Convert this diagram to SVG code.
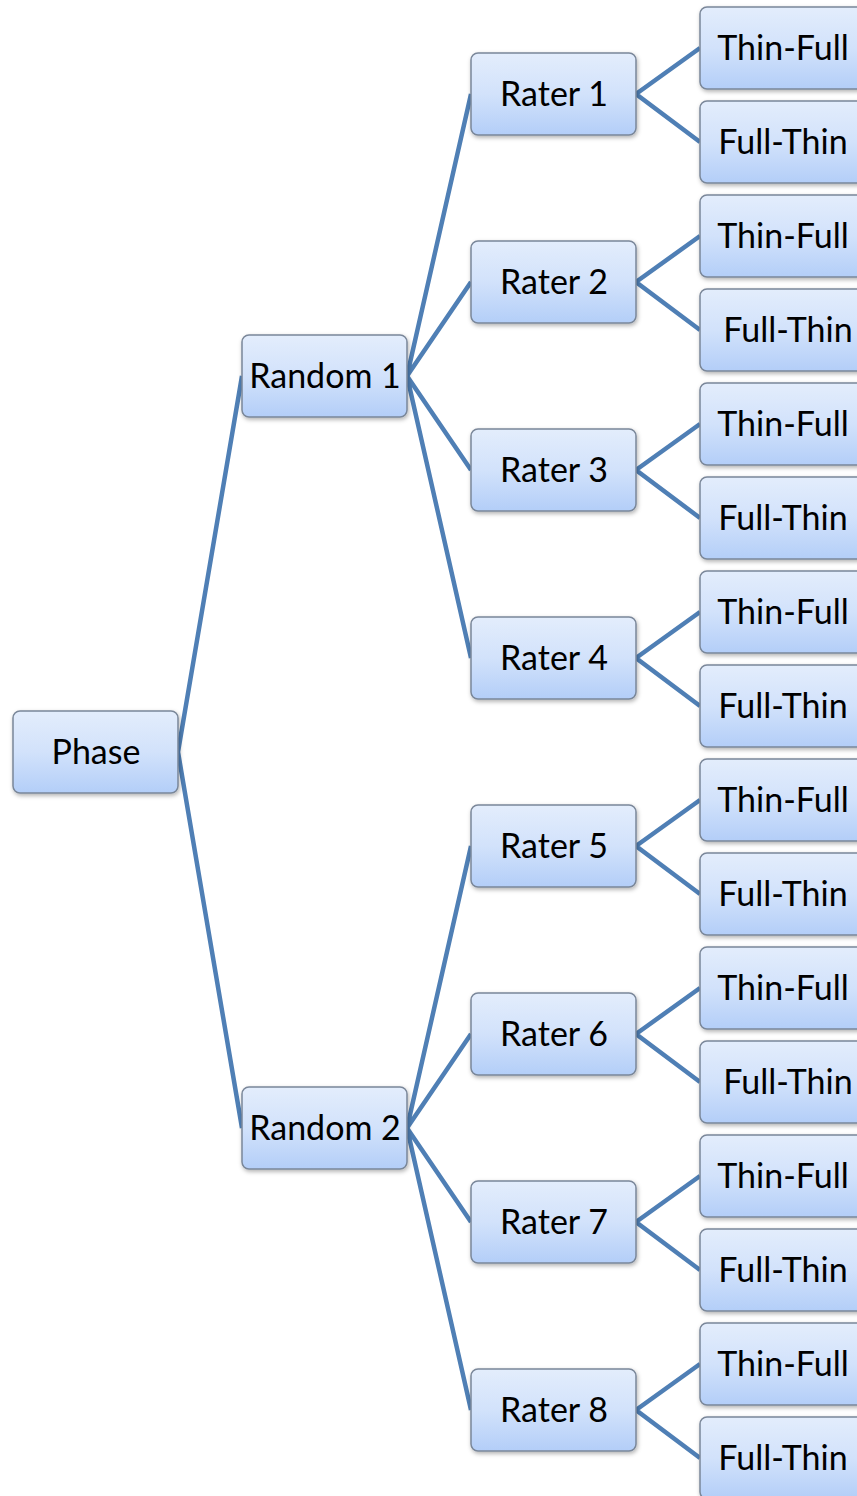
<svg xmlns="http://www.w3.org/2000/svg" width="857" height="1496" viewBox="0 0 857 1496">
<style>
.box{fill:url(#g);stroke:#7a8799;stroke-width:1.5;filter:url(#sh)}
.t{font-family:Lato,"Open Sans",sans-serif;font-size:34px;fill:#000;text-anchor:middle}
.c{stroke:#4f7fb5;stroke-width:4.5;fill:none;stroke-linejoin:miter}
</style>
<defs>
<linearGradient id="g" x1="0" y1="0" x2="0" y2="1">
<stop offset="0" stop-color="#e3edfc"/>
<stop offset="0.5" stop-color="#d2e2fb"/>
<stop offset="1" stop-color="#b3cef8"/>
</linearGradient>
<filter id="sh" x="-10%" y="-10%" width="130%" height="140%">
<feDropShadow dx="1" dy="2" stdDeviation="2" flood-color="#000" flood-opacity="0.3"/>
</filter>
</defs>
<rect width="857" height="1496" fill="#fff"/>
<g id="connectors">
<polyline class="c" points="242,376 178,752 242,1128"/>
<polyline class="c" points="471,94 407,376 471,282"/>
<polyline class="c" points="471,470 407,376 471,658"/>
<polyline class="c" points="471,846 407,1128 471,1034"/>
<polyline class="c" points="471,1222 407,1128 471,1410"/>
<polyline class="c" points="700,48 636,94 700,142"/>
<polyline class="c" points="700,236 636,282 700,330"/>
<polyline class="c" points="700,424 636,470 700,518"/>
<polyline class="c" points="700,612 636,658 700,706"/>
<polyline class="c" points="700,800 636,846 700,894"/>
<polyline class="c" points="700,988 636,1034 700,1082"/>
<polyline class="c" points="700,1176 636,1222 700,1270"/>
<polyline class="c" points="700,1364 636,1410 700,1458"/>
</g>
<g id="phase"><rect class="box" x="13" y="711" width="165" height="82" rx="7"/><text class="t" x="96" y="764">Phase</text></g>
<g id="random1"><rect class="box" x="242" y="335" width="165" height="82" rx="7"/><text class="t" x="325" y="388">Random 1</text></g>
<g id="random2"><rect class="box" x="242" y="1087" width="165" height="82" rx="7"/><text class="t" x="325" y="1140">Random 2</text></g>
<g id="rater1"><rect class="box" x="471" y="53" width="165" height="82" rx="7"/><text class="t" x="554" y="106">Rater 1</text></g>
<g id="rater2"><rect class="box" x="471" y="241" width="165" height="82" rx="7"/><text class="t" x="554" y="294">Rater 2</text></g>
<g id="rater3"><rect class="box" x="471" y="429" width="165" height="82" rx="7"/><text class="t" x="554" y="482">Rater 3</text></g>
<g id="rater4"><rect class="box" x="471" y="617" width="165" height="82" rx="7"/><text class="t" x="554" y="670">Rater 4</text></g>
<g id="rater5"><rect class="box" x="471" y="805" width="165" height="82" rx="7"/><text class="t" x="554" y="858">Rater 5</text></g>
<g id="rater6"><rect class="box" x="471" y="993" width="165" height="82" rx="7"/><text class="t" x="554" y="1046">Rater 6</text></g>
<g id="rater7"><rect class="box" x="471" y="1181" width="165" height="82" rx="7"/><text class="t" x="554" y="1234">Rater 7</text></g>
<g id="rater8"><rect class="box" x="471" y="1369" width="165" height="82" rx="7"/><text class="t" x="554" y="1422">Rater 8</text></g>
<g id="leaf1"><rect class="box" x="700" y="7" width="165" height="82" rx="7"/><text class="t" x="783" y="60">Thin-Full</text></g>
<g id="leaf2"><rect class="box" x="700" y="101" width="165" height="82" rx="7"/><text class="t" x="783" y="154">Full-Thin</text></g>
<g id="leaf3"><rect class="box" x="700" y="195" width="165" height="82" rx="7"/><text class="t" x="783" y="248">Thin-Full</text></g>
<g id="leaf4"><rect class="box" x="700" y="289" width="165" height="82" rx="7"/><text class="t" x="788" y="342">Full-Thin</text></g>
<g id="leaf5"><rect class="box" x="700" y="383" width="165" height="82" rx="7"/><text class="t" x="783" y="436">Thin-Full</text></g>
<g id="leaf6"><rect class="box" x="700" y="477" width="165" height="82" rx="7"/><text class="t" x="783" y="530">Full-Thin</text></g>
<g id="leaf7"><rect class="box" x="700" y="571" width="165" height="82" rx="7"/><text class="t" x="783" y="624">Thin-Full</text></g>
<g id="leaf8"><rect class="box" x="700" y="665" width="165" height="82" rx="7"/><text class="t" x="783" y="718">Full-Thin</text></g>
<g id="leaf9"><rect class="box" x="700" y="759" width="165" height="82" rx="7"/><text class="t" x="783" y="812">Thin-Full</text></g>
<g id="leaf10"><rect class="box" x="700" y="853" width="165" height="82" rx="7"/><text class="t" x="783" y="906">Full-Thin</text></g>
<g id="leaf11"><rect class="box" x="700" y="947" width="165" height="82" rx="7"/><text class="t" x="783" y="1000">Thin-Full</text></g>
<g id="leaf12"><rect class="box" x="700" y="1041" width="165" height="82" rx="7"/><text class="t" x="788" y="1094">Full-Thin</text></g>
<g id="leaf13"><rect class="box" x="700" y="1135" width="165" height="82" rx="7"/><text class="t" x="783" y="1188">Thin-Full</text></g>
<g id="leaf14"><rect class="box" x="700" y="1229" width="165" height="82" rx="7"/><text class="t" x="783" y="1282">Full-Thin</text></g>
<g id="leaf15"><rect class="box" x="700" y="1323" width="165" height="82" rx="7"/><text class="t" x="783" y="1376">Thin-Full</text></g>
<g id="leaf16"><rect class="box" x="700" y="1417" width="165" height="82" rx="7"/><text class="t" x="783" y="1470">Full-Thin</text></g>
</svg>
